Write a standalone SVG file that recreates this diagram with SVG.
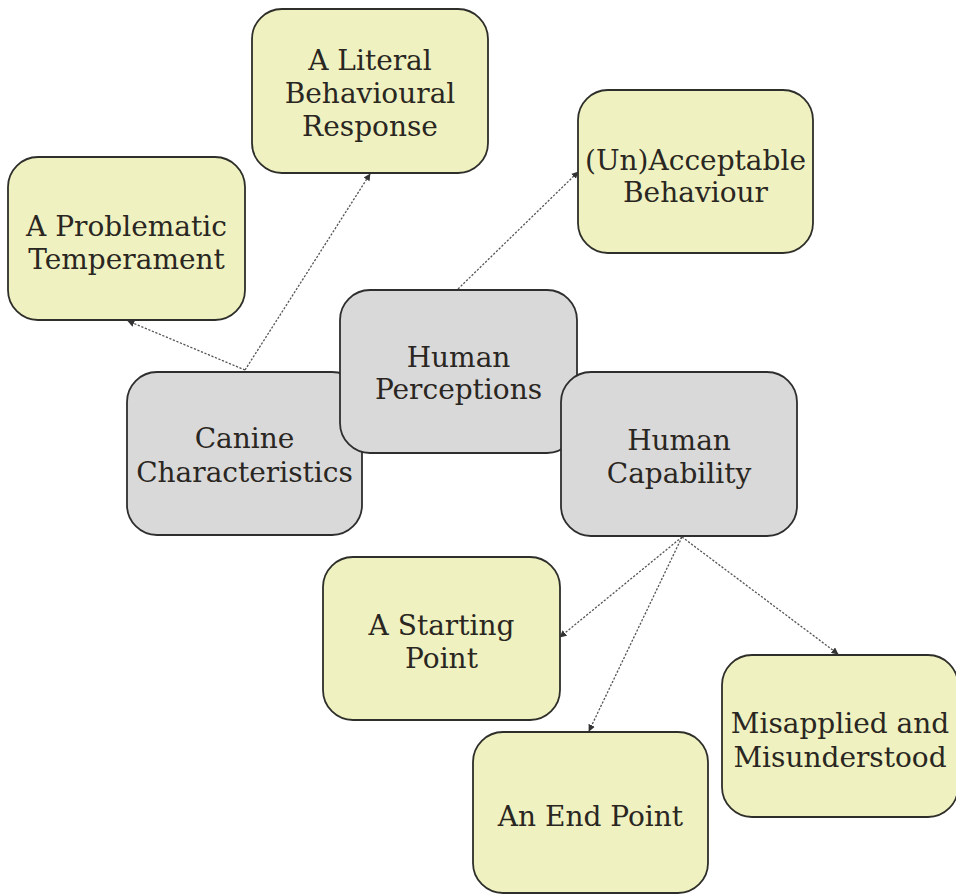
<svg xmlns="http://www.w3.org/2000/svg" width="956" height="895" viewBox="0 0 956 895">
<defs>
<style>
.y{fill:#eff2c0;stroke:#2e2e2a;stroke-width:1.8}
.g{fill:#d9d9d9;stroke:#2e2e2e;stroke-width:1.8}
text{font-family:"DejaVu Serif","Liberation Serif",serif;font-size:28px;fill:#2a2622;text-anchor:middle}
.c{fill:none;stroke:#555;stroke-width:1.3;stroke-dasharray:2.2 1.6;marker-end:url(#ah)}
</style>
<marker id="ah" viewBox="0 0 10 10" refX="9" refY="5" markerWidth="7" markerHeight="7" markerUnits="userSpaceOnUse" orient="auto">
<path d="M0,0 L10,5 L0,10 z" fill="#333"/>
</marker>
</defs>
<rect width="956" height="895" fill="#fff"/>
<g id="problematic"><rect class="y" x="8" y="157" width="237" height="163" rx="30"/><text x="126.5" y="236">A Problematic</text><text x="126.5" y="269">Temperament</text></g>
<g id="literal"><rect class="y" x="252" y="9" width="236" height="164" rx="30"/><text x="370" y="70">A Literal</text><text x="370" y="103">Behavioural</text><text x="370" y="136">Response</text></g>
<g id="unacceptable"><rect class="y" x="578" y="90" width="235" height="163" rx="30"/><text x="695.5" y="170">(Un)Acceptable</text><text x="695.5" y="202">Behaviour</text></g>
<g id="canine"><rect class="g" x="127" y="372" width="235" height="163" rx="30"/><text x="244.5" y="448">Canine</text><text x="244.5" y="482">Characteristics</text></g>
<g id="perceptions"><rect class="g" x="340" y="290" width="237" height="163" rx="30"/><text x="458.5" y="367">Human</text><text x="458.5" y="399">Perceptions</text></g>
<g id="capability"><rect class="g" x="561" y="372" width="236" height="164" rx="30"/><text x="679" y="450">Human</text><text x="679" y="483">Capability</text></g>
<g id="starting"><rect class="y" x="323" y="557" width="237" height="163" rx="30"/><text x="441.5" y="635">A Starting</text><text x="441.5" y="668">Point</text></g>
<g id="endpoint"><rect class="y" x="473" y="732" width="235" height="161" rx="30"/><text x="590.5" y="826">An End Point</text></g>
<g id="misapplied"><rect class="y" x="722" y="655" width="236" height="162" rx="30"/><text x="840" y="733">Misapplied and</text><text x="840" y="767">Misunderstood</text></g>
<g id="connectors">
<line class="c" x1="245" y1="370" x2="128" y2="321"/>
<line class="c" x1="245" y1="370" x2="370" y2="174"/>
<line class="c" x1="458" y1="289" x2="578" y2="172"/>
<line class="c" x1="682" y1="537" x2="560" y2="637"/>
<line class="c" x1="682" y1="537" x2="589" y2="731"/>
<line class="c" x1="682" y1="537" x2="838" y2="654"/>
</g>
</svg>
